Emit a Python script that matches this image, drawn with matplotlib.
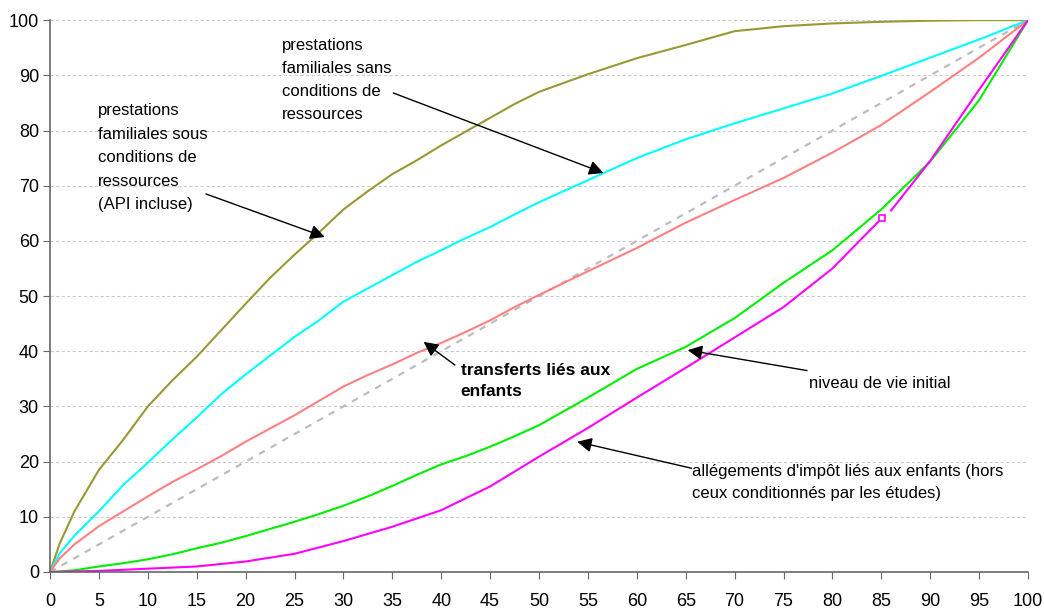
import matplotlib
matplotlib.use("Agg")
import matplotlib.pyplot as plt

plt.rcParams['font.family'] = ['Liberation Sans', 'DejaVu Sans']

# Courbes de concentration
x_pts = [0, 1, 2.5, 5, 7.5, 10, 12.5, 15, 17.5, 20, 22.5, 25, 27.5, 30, 32.5, 35, 37.5, 40,
         42.5, 45, 47.5, 50, 55, 60, 65, 70, 75, 80, 85, 90, 95, 100]

olive = [0, 5.2, 11, 18.5, 24, 30, 34.7, 39, 43.8, 48.6, 53.3, 57.5, 61.5, 65.7, 69, 72.1, 74.6, 77.3,
         79.8, 82.3, 84.8, 87, 90.2, 93.1, 95.5, 98, 98.9, 99.4, 99.7, 99.9, 100, 100]
cyan = [0, 3.4, 6.6, 11, 15.8, 19.8, 24, 28, 32.2, 35.8, 39.2, 42.6, 45.6, 49, 51.4, 53.8, 56.2, 58.3,
        60.5, 62.5, 64.8, 67, 71, 75, 78.4, 81.3, 84, 86.7, 89.9, 93.2, 96.5, 100]
saumon = [0, 2.5, 5, 8.3, 11, 13.7, 16.3, 18.6, 21, 23.6, 26, 28.4, 31, 33.6, 35.7, 37.6, 39.7, 41.5,
          43.5, 45.6, 48, 50.2, 54.5, 58.7, 63.3, 67.4, 71.4, 76, 81, 87, 93.2, 100]
vert = [0, 0.1, 0.3, 1, 1.6, 2.3, 3.2, 4.3, 5.3, 6.5, 7.8, 9.1, 10.5, 12, 13.7, 15.6, 17.6, 19.5,
        21, 22.7, 24.6, 26.6, 31.6, 36.8, 40.8, 46, 52.4, 58.3, 65.7, 74.4, 85.5, 100]

# allègements : deux morceaux (coupure vers 85)
mag_x1 = [0, 5, 10, 15, 20, 25, 30, 35, 40, 45, 50, 55, 60, 65, 70, 75, 80, 85.1]
mag_y1 = [0, 0.2, 0.6, 1, 1.9, 3.3, 5.6, 8.2, 11.2, 15.5, 20.9, 26.1, 31.6, 37, 42.5, 48, 55, 64.2]
mag_x2 = [86, 90, 95, 100]
mag_y2 = [65.5, 74.5, 87.4, 100]

x_ticks = list(range(0, 101, 5))
y_ticks = list(range(0, 101, 10))

fig = plt.figure(figsize=(10.44, 6.10), dpi=100)
ax = fig.add_axes([0.0479, 0.0623, 0.9368, 0.9047])

# grille horizontale
for yv in y_ticks[1:]:
    ax.axhline(yv, color='#cccccc', lw=0.8, ls=(0, (3, 2)), zorder=0)

ax.plot([0, 100], [0, 100], color='#bdbdbd', lw=1.6, ls=(0, (3, 3)), zorder=1)
ax.plot(x_pts, olive, color='#999933', lw=1.5)
ax.plot(x_pts, cyan, color='#00ffff', lw=1.5)
ax.plot(x_pts, saumon, color='#ff8080', lw=1.5)
ax.plot(x_pts, vert, color='#00ee00', lw=1.5)
ax.plot(mag_x1, mag_y1, color='#ff00ff', lw=1.5)
ax.plot(mag_x2, mag_y2, color='#ff00ff', lw=1.5)
ax.plot([mag_x1[-1]], [mag_y1[-1]], marker='s', ms=4, mfc='white', mec='#ff00ff', mew=1.2)

ax.set_xlim(0, 100)
ax.set_ylim(0, 100)
ax.set_xticks(x_ticks)
ax.set_yticks(y_ticks)
ax.tick_params(axis='x', length=5, pad=10, labelsize=13, color='#666666')
ax.tick_params(axis='y', length=5, pad=3, labelsize=13, color='#666666')
for s in ['top', 'right']:
    ax.spines[s].set_visible(False)
for s in ['left', 'bottom']:
    ax.spines[s].set_color('#666666')
    ax.spines[s].set_linewidth(1.2)

arrow = dict(arrowstyle='-|>', color='black', lw=1, mutation_scale=22, shrinkA=0, shrinkB=0)

ax.text(4.9, 85.0, 'prestations\nfamiliales sous\nconditions de\nressources\n(API incluse)',
        fontsize=12, ha='left', va='top', linespacing=1.72)
ax.annotate('', xy=(28.1, 60.7), xytext=(15.95, 68.5), arrowprops=arrow)

ax.text(23.7, 96.7, 'prestations\nfamiliales sans\nconditions de\nressources',
        fontsize=12, ha='left', va='top', linespacing=1.66)
ax.annotate('', xy=(56.6, 72.3), xytext=(35.1, 86.8), arrowprops=arrow)

ax.text(42.0, 37.9, 'transferts liés aux\nenfants', fontsize=12.5, fontweight='bold',
        ha='left', va='top', linespacing=1.5)
ax.annotate('', xy=(38.2, 41.7), xytext=(41.4, 37.5), arrowprops=arrow)

ax.text(77.6, 34.2, 'niveau de vie initial', fontsize=12, ha='left', va='center')
ax.annotate('', xy=(65.2, 40.2), xytext=(77.4, 36.5), arrowprops=arrow)

ax.text(65.6, 19.6, "allégements d'impôt liés aux enfants (hors\nceux conditionnés par les études)",
        fontsize=12, ha='left', va='top', linespacing=1.58)
ax.annotate('', xy=(53.9, 23.6), xytext=(65.6, 18.8), arrowprops=arrow)

fig.savefig('out.png', dpi=100)
